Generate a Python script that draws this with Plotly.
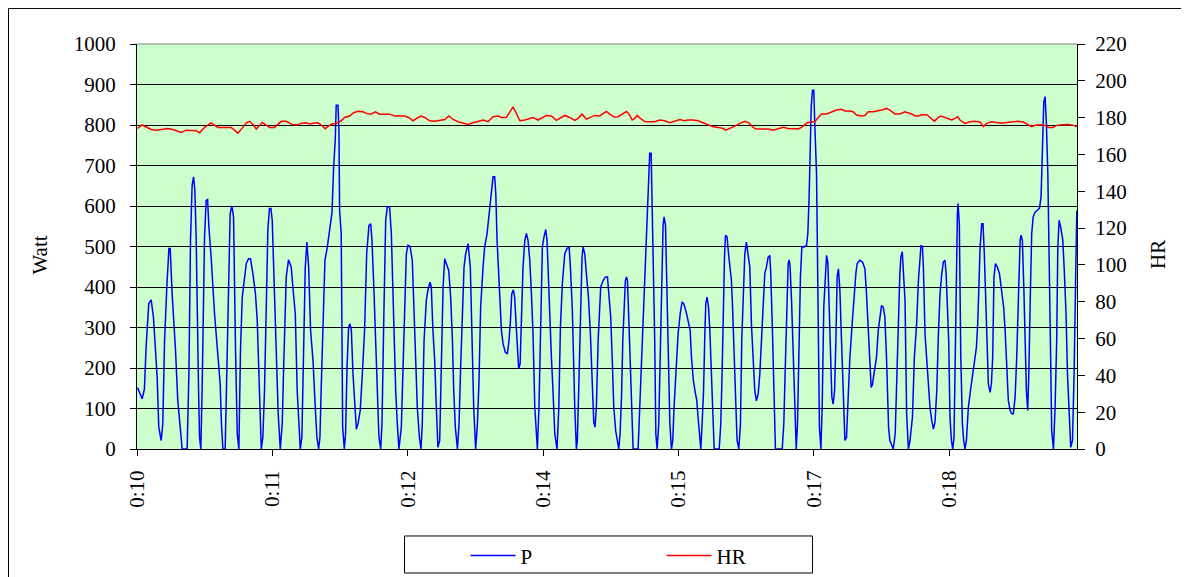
import plotly.graph_objects as go

# elapsed seconds from 0:10 and power in Watt
p_sec = [
    0.3, 3.2, 4.6, 5.7, 7.3, 8.8, 10.2, 11.5, 12.5, 13.5, 15.0, 16.0, 17.1, 18.5, 19.8, 20.6, 21.8, 23.9, 25.3, 26.8,
    28.0, 31.1, 32.2, 33.2, 34.2, 35.1, 35.9, 36.7, 37.3, 38.2, 38.8, 39.6, 40.4, 41.9, 42.9, 43.8, 44.6, 46.0, 48.1, 50.2,
    51.6, 52.4, 53.3, 54.7, 55.8, 57.0, 57.8, 58.9, 59.9, 61.1, 62.2, 63.2, 64.2, 65.3, 66.5, 67.8, 69.2, 70.4, 71.9, 73.5,
    74.6, 76.0, 77.1, 78.1, 79.1, 80.2, 81.2, 82.2, 83.1, 83.9, 85.0, 86.4, 87.6, 88.9, 90.1, 91.1,
    92.6, 94.0, 95.7, 96.7, 98.2, 99.4, 100.3, 101.3, 102.3, 103.2, 104.4, 105.4, 106.5, 107.7, 109.2, 110.6, 111.6, 112.7,
    113.5, 114.3, 115.4, 116.6, 118.1, 119.5, 121.0, 122.0, 123.0, 123.6, 124.7, 125.3, 125.7, 126.7, 127.6, 128.6, 129.4,
    130.3, 131.3, 132.1, 133.0, 134.0, 135.0, 136.1, 137.1, 138.5, 139.8, 141.2, 142.5, 143.9, 145.0, 145.8, 147.0, 148.1,
    149.1, 150.1, 151.2, 152.0, 153.2, 154.3, 155.3, 156.7, 157.8, 159.2, 160.5, 161.5, 162.5, 164.0, 165.0, 166.1, 167.1,
    168.1, 169.4, 170.8, 171.8, 172.9, 173.9, 175.2, 176.2, 177.0, 178.1, 179.5, 180.5, 181.8, 182.6, 183.6, 184.7, 185.7,
    186.7,
    187.8, 189.9, 190.9, 191.9, 193.4, 194.6, 195.7, 196.5, 197.5, 198.8, 199.8, 200.8, 201.9, 202.9, 203.9, 205.4, 206.8,
    207.9, 208.9, 210.1, 211.2, 212.2, 213.2, 214.7, 215.7, 217.2, 218.4, 219.9, 220.9, 221.9, 222.6, 223.4, 224.4, 225.0,
    226.1, 227.1, 228.5, 229.8, 230.8, 231.7, 232.5, 233.5, 234.3, 235.2, 236.0, 236.8, 237.7, 238.5, 239.5, 240.6, 241.6,
    242.6, 243.7, 244.7, 245.7, 246.8, 247.8, 248.4, 249.4, 250.5, 251.5, 252.5, 253.6, 254.4, 255.7, 257.1, 258.1, 259.2,
    260.6, 261.7, 262.7, 263.9, 265.4, 266.8, 268.1, 268.9, 270.1, 271.0, 271.6, 272.6, 273.2, 274.3, 275.1, 276.1, 276.8,
    277.8, 278.8, 280.1, 281.3, 282.3, 283.4, 284.2,
    285.0, 286.1, 286.9, 287.7, 289.2, 290.6, 291.9, 292.7, 293.9, 294.8, 295.8, 297.0, 298.1, 298.9, 299.7, 300.6, 301.4,
    302.2, 303.0, 303.7, 304.3, 305.3, 306.1, 307.0, 307.8, 310.9, 311.9, 313.0, 314.2, 315.4, 316.5, 317.5, 318.1, 319.0,
    319.6, 320.4, 321.2, 321.9, 322.7, 323.7, 324.8, 325.8, 326.4, 327.0, 327.9, 328.7, 329.5, 330.6, 331.6, 332.4, 333.2,
    334.5, 335.7, 337.0, 338.2, 339.2, 340.5, 341.9, 343.2, 344.0, 345.2, 346.5, 347.3, 348.1, 349.0, 349.8, 350.6, 351.5,
    352.3, 352.9, 353.7, 354.6, 355.4, 356.4, 357.2, 358.1, 361.2, 362.2, 363.0, 363.9, 364.5, 365.1, 366.1, 367.0, 368.0,
    368.8, 369.5, 370.5, 371.3, 372.3, 373.4, 374.4, 375.2, 376.3, 377.1, 378.1, 379.2,
    380.2, 381.2, 382.3, 383.3, 384.3, 385.4, 386.4, 387.4, 388.5, 389.5, 390.5, 391.6, 392.6, 393.2, 394.3, 395.1, 396.1,
    400.3, 401.3, 402.1, 403.0, 404.0, 404.6, 405.2, 406.1, 407.1, 408.1, 409.0, 409.8, 410.8, 411.6, 412.5, 413.9, 415.4,
    416.2, 417.0, 417.7, 418.3, 419.1, 419.9, 420.5, 421.6, 422.2, 422.8, 423.4, 424.3, 425.1, 426.1, 427.0, 427.8, 428.6,
    429.4, 430.3, 431.1, 431.9, 432.8, 433.6, 434.4, 435.2, 436.1, 437.1, 438.1, 439.2, 440.2, 441.0, 442.3, 443.7, 444.8,
    446.0, 446.8, 448.5, 450.1, 451.6, 452.6, 453.7, 454.7, 455.5, 456.3, 457.4, 458.8, 459.9, 460.9, 461.9, 463.0, 464.0,
    465.0, 465.7, 466.3, 467.1, 469.2, 470.4, 471.4, 472.5, 473.3, 473.9, 474.8, 475.8,
    476.5, 477.5, 478.6, 479.6, 481.1, 482.3, 483.7, 484.8, 485.8, 486.4, 487.3, 487.9, 488.9, 490.0, 491.0, 492.0, 493.1,
    494.1, 495.1, 496.2, 497.2, 498.2, 499.3, 500.3, 501.3, 502.0, 502.8, 503.6, 504.4, 505.3, 506.1, 506.9, 507.5, 508.2,
    509.0, 509.4, 510.2, 511.1, 512.1, 512.9, 513.7, 514.6, 515.8, 517.1, 517.9, 518.9, 520.0, 520.8, 521.6, 522.4, 523.1,
    524.1, 524.9, 525.7, 526.6, 527.4, 528.2, 529.3, 530.1, 530.9, 531.7, 532.6, 533.8, 535.1, 536.5, 537.7, 538.6, 539.6,
    540.6, 541.7, 542.7, 543.7, 544.8, 545.8, 546.8, 547.9, 548.5, 549.3, 550.2, 551.0, 551.8, 552.6, 553.3, 554.3, 555.1,
    556.0, 557.2, 558.4, 559.9, 560.9, 561.7, 562.6, 563.4, 564.2, 565.1, 565.9, 566.7, 567.5, 568.6, 569.6, 570.6, 571.3,
    572.1, 573.1, 574.4, 575.4, 576.4, 577.3, 578.3, 579.3, 580.4, 581.4, 582.4, 583.1,
]
p_watt = [
    152, 124, 148, 256, 359, 368, 326, 235, 177, 54, 21, 62, 268, 400, 495, 495, 383, 243, 120, 54,
    0, 0, 185, 515, 651, 672, 639, 523, 334, 144, 29, 0, 144, 523, 614, 616, 548, 474, 334, 218,
    161, 62, 0, 0, 202, 474, 581, 600, 573, 251, 37, 0, 243, 375, 416, 458, 470, 470, 433, 383,
    317, 144, 0, 29, 144, 350, 544, 594, 594, 565, 433, 260, 87, 0, 62, 218,
    425, 467, 449, 400, 334, 144, 54, 0, 29, 218, 449, 511, 449, 293, 218, 103, 29, 0,
    29, 152, 284, 466, 499, 540, 585, 697, 763, 849, 849, 787, 589, 532, 54, 0, 37,
    202, 301, 309, 293, 185, 103, 49, 62, 95, 185, 293, 482, 552, 556, 515, 392, 251,
    111, 29, 0, 62, 342, 565, 598, 598, 532, 309, 144, 62, 0, 54, 210, 367, 482,
    503, 500, 466, 350, 227, 103, 29, 0, 62, 268, 367, 392, 412, 400, 293, 218, 103,
    4,
    21, 400, 470, 458, 441, 375, 268, 144, 54, 0, 62, 202, 350, 449, 482, 507, 449,
    227, 103, 0, 62, 169, 350, 449, 499, 532, 573, 622, 672, 672, 631, 515, 433, 350,
    293, 260, 239, 235, 268, 317, 383, 393, 375, 309, 243, 198, 210, 309, 449, 515, 532,
    515, 466, 383, 284, 103, 21, 0, 103, 350, 499, 524, 542, 515, 350, 227, 144, 37,
    0, 103, 301, 408, 482, 495, 499, 449, 342, 185, 103, 0, 21, 185, 350, 474, 499,
    482, 433, 375, 284, 161, 66, 54,
    103, 268, 350, 400, 416, 425, 425, 383, 326, 227, 103, 45, 12, 0, 37, 128, 268,
    367, 416, 425, 416, 301, 194, 62, 0, 0, 103, 227, 367, 474, 598, 697, 730, 730,
    622, 466, 268, 37, 0, 62, 268, 474, 552, 573, 552, 408, 268, 62, 0, 21, 103,
    194, 284, 334, 363, 359, 342, 317, 293, 227, 169, 136, 120, 78, 37, 0, 62, 144,
    284, 359, 375, 350, 293, 185, 62, 0, 0, 62, 185, 392, 474, 528, 524, 482, 441,
    416, 350, 235, 103, 21, 0, 62, 268, 416, 482, 511, 482,
    449, 309, 218, 144, 119, 136, 185, 268, 383, 433, 449, 474, 478, 433, 284, 144, 0,
    0, 62, 185, 350, 458, 467, 449, 367, 235, 62, 0, 62, 268, 425, 499, 499, 503,
    532, 622, 754, 845, 886, 886, 804, 680, 474, 185, 54, 0, 103, 350, 433, 478, 462,
    350, 185, 128, 111, 144, 268, 425, 445, 392, 268, 144, 21, 29, 103, 227, 309, 383,
    433, 458, 466, 462, 445, 383, 293, 194, 152, 160, 194, 227, 293, 326, 354, 350, 326,
    227, 144, 54, 21, 0, 37, 185, 350, 433, 474, 487, 416,
    367, 87, 0, 21, 78, 227, 309, 416, 491, 503, 499, 449, 284, 218, 169, 103, 70,
    49, 66, 144, 284, 383, 433, 462, 466, 433, 350, 268, 78, 21, 0, 29, 185, 392,
    581, 606, 556, 227, 62, 21, 0, 21, 103, 144, 169, 202, 227, 251, 309, 433, 499,
    556, 556, 482, 350, 243, 161, 140, 161, 227, 425, 458, 449, 433, 383, 350, 293, 202,
    120, 95, 87, 87, 128, 227, 392, 515, 528, 515, 400, 268, 144, 95, 185, 392, 532,
    573, 585, 589, 594, 622, 763, 857, 870, 804, 680, 515, 268, 45, 0, 103, 268, 499,
    565, 548, 515, 433, 334, 185, 78, 4, 21, 185, 433, 589,
]

# heart rate (right axis)
hr_sec = [
    0.3, 3.2, 5.7, 8.8, 11.9, 16.0, 19.1, 22.2, 25.3, 27.4, 30.5, 33.6, 36.7, 38.8, 41.9, 46.0, 48.1, 50.2, 55.3, 58.4,
    60.5, 62.6, 65.7, 67.8, 69.8, 72.3, 74.0, 76.0, 77.7, 80.2, 82.2, 85.3, 88.0, 89.5, 92.6, 94.7, 96.7, 99.8, 101.9,
    105.0, 107.1, 109.2, 112.3, 114.3, 116.8, 118.9, 121.0, 123.6, 126.7, 128.8, 131.9, 134.4, 137.1, 140.2, 142.3,
    145.0, 147.9, 150.5, 153.6, 156.7, 159.9, 163.0, 166.1, 168.5, 171.2, 173.9, 176.4, 178.5, 181.6, 184.7, 187.8,
    190.9, 193.6, 196.1, 199.2, 202.3, 205.4, 208.5, 211.6, 214.7, 217.8, 220.9, 224.0, 226.1, 229.2, 231.2, 233.3,
    235.4, 237.5, 240.6, 243.7, 245.7, 248.8, 251.5, 254.0, 257.1, 260.2, 262.7, 265.4, 268.5, 271.6, 273.7, 276.1,
    278.8, 281.9, 284.0, 287.1, 289.2, 291.2, 293.3, 296.0, 298.5, 301.0, 303.7, 305.3, 307.2, 308.8, 310.3, 311.9,
    315.0, 318.1, 321.2, 324.3, 327.4, 330.6, 333.7, 336.8, 339.5, 341.9, 345.0, 348.1, 351.2, 354.3, 357.5, 360.6,
    363.7, 365.3, 367.8, 370.9, 374.0, 377.1, 379.6, 382.3, 384.3, 388.5, 391.6, 394.7, 397.8, 400.9, 404.0, 407.1,
    410.2, 412.3, 413.9, 415.8, 418.5, 420.5, 422.6, 424.7, 427.8, 430.9, 434.0, 437.1, 439.2, 442.3, 444.3, 446.4,
    449.5, 451.6, 453.7, 456.8, 458.8, 461.9, 465.0, 467.1, 470.2, 473.3, 476.4, 480.6, 482.7, 484.8, 486.8, 490.0,
    492.0, 494.7, 497.2, 498.8, 501.3, 503.4, 505.5, 507.5, 509.2, 510.6, 513.7, 516.8, 519.9, 523.1, 525.1, 527.2,
    530.3, 533.4, 536.5, 539.6, 542.7, 546.8, 549.9, 553.1, 555.1, 557.2, 560.3, 563.4, 565.5, 568.2, 570.7, 573.8,
    577.9, 581.0, 583.1,
]
hr_bpm = [
    174.1, 176.0, 174.9, 173.6, 173.2, 173.6, 174.1, 173.6, 172.7, 172.0, 173.2, 173.2, 172.9, 171.8, 174.7, 177.2, 176.0,
    174.7, 174.7, 174.7, 173.2, 171.6, 174.7, 177.2, 178.0, 176.0, 173.8, 176.0, 177.4, 176.0, 174.7, 174.7, 177.2, 178.0,
    178.0, 176.9, 176.1, 176.1, 176.9, 177.2, 176.5, 176.9, 177.2, 176.0, 174.0, 175.5, 176.5, 176.9, 178.3, 180.1, 180.9,
    182.7, 183.4, 183.2, 182.3, 181.9, 183.2, 181.9, 181.9, 181.9, 180.9, 180.9, 180.9, 180.1, 178.3, 179.8, 180.9, 180.1,
    178.3, 178.0, 178.3, 179.0, 180.9, 179.0, 177.8, 177.2, 176.3, 177.2, 178.1, 178.7, 177.8, 180.5, 180.9, 180.1, 180.1,
    183.2, 185.9, 182.3, 178.3, 178.7, 179.4, 180.1, 178.7, 180.1, 181.2, 180.9, 178.5, 179.8, 181.2, 180.1, 178.5, 179.6,
    181.9, 179.2, 180.5, 181.2, 180.9, 182.3, 183.4, 181.9, 180.3, 180.5, 181.9, 183.4, 181.9, 178.7, 179.6, 181.2, 179.9,
    177.9, 177.8, 177.8, 178.7, 178.3, 177.2, 178.3, 179.0, 178.3, 178.7, 178.7, 178.3, 177.2, 176.0, 175.0, 174.7, 174.1,
    173.2, 174.1, 175.4, 176.9, 178.0, 177.2, 174.7, 173.8, 173.8, 173.8, 173.2, 173.8, 174.7, 174.1, 173.9, 173.9, 174.7,
    176.1, 177.2, 177.6, 177.8, 180.1, 182.0, 182.0, 183.2, 184.1, 184.5, 183.6, 183.6, 183.2, 181.4, 180.9, 181.2, 183.2,
    183.2, 183.4, 184.1, 185.0, 184.1, 182.0, 182.0, 183.2, 182.0, 180.9, 180.9, 181.6, 181.6, 180.1, 178.1, 180.1, 180.9,
    180.1, 179.2, 178.7, 179.6, 180.5, 178.7, 176.9, 177.8, 178.0, 177.6, 175.1, 176.9, 177.8, 177.4, 177.0, 177.4, 177.8,
    178.0, 177.6, 176.1, 175.1, 175.8, 176.1, 175.8, 174.7, 174.7, 175.8, 176.1, 176.3, 175.8, 175.1,
]

tick_sec = [0, 84, 168, 252, 336, 420, 504]
tick_text = ['0:10', '0:11', '0:12', '0:14', '0:15', '0:17', '0:18']

FONT = 'Liberation Serif, Times New Roman, Times, serif'

fig = go.Figure()
fig.add_trace(go.Scatter(x=p_sec, y=p_watt, name='P', mode='lines',
                         line=dict(color='#0000FF', width=1.5)))
fig.add_trace(go.Scatter(x=hr_sec, y=hr_bpm, name='HR', mode='lines', yaxis='y2',
                         line=dict(color='#FF0000', width=1.5)))

# the page adds an 8px body margin, so the figure is a little smaller than the window
fig.update_layout(
    width=1181,
    height=569,
    margin=dict(l=129, r=112, t=36, b=128),
    paper_bgcolor='white',
    plot_bgcolor='#CCFFCC',
    font=dict(family=FONT, size=21, color='black'),
    showlegend=True,
    legend=dict(
        orientation='h',
        x=0.3495, xanchor='left',
        yref='container',
        y=0.037, yanchor='middle',
        borderwidth=0,
        bgcolor='rgba(0,0,0,0)',
        entrywidth=136,
        itemwidth=45,
        font=dict(family=FONT, size=21),
    ),
    xaxis=dict(
        range=[0, 583.2],
        tickvals=tick_sec,
        ticktext=tick_text,
        tickangle=-90,
        ticks='outside', ticklen=6, tickcolor='black',
        ticklabelstandoff=6,
        showline=True, linecolor='black', linewidth=1,
        showgrid=False, zeroline=False,
        automargin=False,
    ),
    yaxis=dict(
        range=[0, 1000],
        dtick=100,
        ticks='outside', ticklen=6, tickcolor='black',
        ticklabelstandoff=10,
        showline=True, linecolor='black', linewidth=1,
        showgrid=True, gridcolor='black', gridwidth=1,
        zeroline=False,
        automargin=False,
    ),
    yaxis2=dict(
        range=[0, 220],
        dtick=20,
        overlaying='y', side='right',
        ticks='outside', ticklen=7, tickcolor='black',
        ticklabelstandoff=6,
        showline=True, linecolor='black', linewidth=1,
        showgrid=False, zeroline=False,
        automargin=False,
    ),
    annotations=[
        dict(text='Watt', xref='paper', yref='paper', x=-0.1037, y=0.479,
             xanchor='center', yanchor='middle',
             textangle=-90, showarrow=False, font=dict(family=FONT, size=21)),
        dict(text='HR', xref='paper', yref='paper', x=1.0862, y=0.479,
             xanchor='center', yanchor='middle',
             textangle=-90, showarrow=False, font=dict(family=FONT, size=21)),
    ],
    shapes=[
        # gray top edge of the plot area
        dict(type='line', xref='paper', yref='paper', x0=0, x1=1, y0=1, y1=1,
             line=dict(color='#808080', width=1)),
        # outer chart frame
        dict(type='rect', xref='paper', yref='paper', x0=-0.1367, x1=1.1122, y0=-0.36, y1=1.0877,
             line=dict(color='black', width=1)),
        # legend box
        dict(type='rect', xref='paper', yref='paper', x0=0.2846, x1=0.7186, y0=-0.3062, y1=-0.2148,
             fillcolor='white', line=dict(color='black', width=1)),
    ],
)

fig.write_html("out.html")
